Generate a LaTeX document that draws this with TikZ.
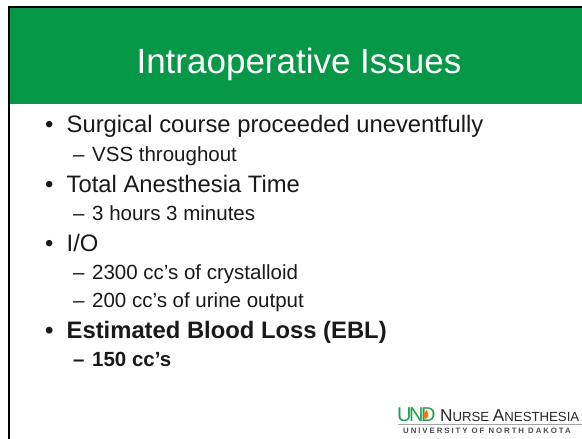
\documentclass[tikz,border=0pt]{standalone}
\usepackage{fontspec}
\setmainfont{Liberation Sans}
\definecolor{undgreen}{RGB}{6,152,70}
\definecolor{logogreen}{RGB}{30,160,80}
\definecolor{txt}{RGB}{25,25,25}
\tikzset{
  lvlone/.style={anchor=base west,inner sep=0pt,font=\fontsize{23.8}{28}\selectfont,text=txt},
  lvltwo/.style={anchor=base west,inner sep=0pt,font=\fontsize{20.5}{24}\selectfont,text=txt},
  boldone/.style={lvlone,font=\fontsize{23.8}{28}\selectfont\bfseries},
  boldtwo/.style={lvltwo,font=\fontsize{20.5}{24}\selectfont\bfseries},
}
\begin{document}
\begin{tikzpicture}[x=1pt,y=-1pt]
\useasboundingbox (0,0) rectangle (582,439);
\fill[white] (0,0) rectangle (582,439);
\fill[undgreen] (9,7) rectangle (582,104);
\draw[black,line width=1.5pt] (9,439) -- (9,7) -- (582,7);
\node[anchor=base,inner sep=0pt,text=white,font=\fontsize{35}{40}\selectfont] (title) at (299,74) {Intraoperative Issues};
\node[lvlone] (a0) at (45,132) {•};
\node[lvlone] (a) at (66.5,132) {Surgical course proceeded uneventfully};
\node[lvltwo] (a1d) at (73,161) {–};
\node[lvltwo] (a1) at (92,161) {VSS throughout};
\node[lvlone] (b0) at (45,192) {•};
\node[lvlone] (b) at (66.5,192) {Total Anesthesia Time};
\node[lvltwo] (b1d) at (73,220) {–};
\node[lvltwo] (b1) at (92,220) {3 hours 3 minutes};
\node[lvlone] (c0) at (45,251) {•};
\node[lvlone] (c) at (66.5,251) {I/O};
\node[lvltwo] (c1d) at (73,279) {–};
\node[lvltwo] (c1) at (92,279) {2300 cc’s of crystalloid};
\node[lvltwo] (c2d) at (73,307) {–};
\node[lvltwo] (c2) at (92,307) {200 cc’s of urine output};
\node[boldone] (d0) at (45,338) {•};
\node[boldone] (d) at (66.5,338) {Estimated Blood Loss (EBL)};
\node[boldtwo] (d1d) at (73,366) {–};
\node[boldtwo] (d1) at (92,366) {150 cc’s};
% logo
\node[anchor=base west,inner sep=0pt,text=logogreen,font=\fontsize{20}{22}\selectfont] (und) at (397,421.5) {U\kern-2.5pt N\kern-2.5pt D};
\fill[orange!90!red] (426,419) .. controls (421,417) and (424,412) .. (427,410) .. controls (428,413) and (430,416) .. (426,419) -- cycle;
\node[anchor=base west,inner sep=0pt,text=black!85] (nurse) at (440,421.5) {\fontsize{17.2}{18}\selectfont N\fontsize{13.2}{18}\selectfont URSE \fontsize{17.2}{18}\selectfont A\fontsize{13.2}{18}\selectfont NESTHESIA};
\draw[black!35,line width=1pt] (398,424.5) -- (582,424.5);
\node[anchor=base west,inner sep=0pt,text=black!70,font=\fontsize{7.8}{9}\selectfont\bfseries] (univ) at (403,433.5) {\addfontfeatures{LetterSpace=25}UNIVERSITY OF NORTH DAKOTA};
\end{tikzpicture}
\end{document}
